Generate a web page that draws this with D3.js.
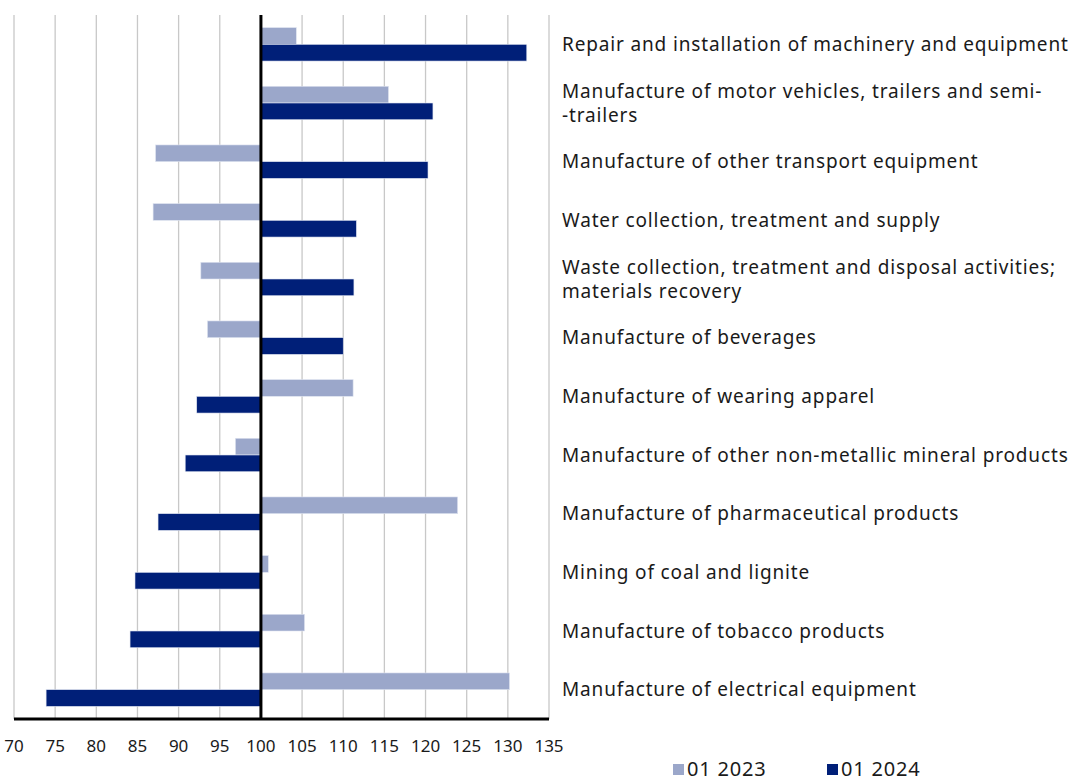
<!DOCTYPE html>
<html>
<head>
<meta charset="utf-8">
<script src="https://cdn.jsdelivr.net/npm/d3@7"></script>
<style>
  body { margin: 0; background: #fff; }
  text { font-family: "Noto Sans", sans-serif; fill: #1a1a1a; }
</style>
</head>
<body>
<div id="chart"></div>
<script>
// --- data ---
const categories = [
  ["Repair and installation of machinery and equipment"],
  ["Manufacture of motor vehicles, trailers and semi-", "-trailers"],
  ["Manufacture of other transport equipment"],
  ["Water collection, treatment and supply"],
  ["Waste collection, treatment and disposal activities;", "materials recovery"],
  ["Manufacture of beverages"],
  ["Manufacture of wearing apparel"],
  ["Manufacture of other non-metallic mineral products"],
  ["Manufacture of pharmaceutical products"],
  ["Mining of coal and lignite"],
  ["Manufacture of tobacco products"],
  ["Manufacture of electrical equipment"]
];
const values2023 = [104.3, 115.5, 87.2, 86.9, 92.7, 93.5, 111.2, 96.9, 123.9, 100.9, 105.3, 130.2];
const values2024 = [132.3, 120.9, 120.3, 111.6, 111.3, 110.0, 92.2, 90.8, 87.5, 84.7, 84.1, 73.9];
const seriesNames = ["01 2023", "01 2024"];
const xTicks = d3.range(70, 136, 5);

const width = 1073, height = 781;
const plotL = 14, plotR = 549, plotT = 15, plotB = 719;
const colors = ["#9ba7ca", "#001f78"];

const svg = d3.select("#chart").append("svg")
  .attr("width", width).attr("height", height);

const x = d3.scaleLinear().domain([70, 135]).range([plotL, plotR]);
const y = d3.scaleBand().domain(d3.range(categories.length)).range([plotT, plotB]);
const barH = y.bandwidth() * 0.285;

// gridlines
svg.append("g").selectAll("line").data(xTicks).join("line")
  .attr("x1", d => x(d)).attr("x2", d => x(d))
  .attr("y1", plotT).attr("y2", plotB)
  .attr("stroke", "#c8c8c8").attr("stroke-width", 1.3);

// bars
const rows = categories.map((c, i) => ({ i, v: [values2023[i], values2024[i]] }));
const g = svg.append("g");
rows.forEach(r => {
  const cy = y(r.i) + y.bandwidth() / 2;
  r.v.forEach((v, s) => {
    g.append("rect")
      .attr("x", x(Math.min(v, 100)))
      .attr("width", Math.abs(x(v) - x(100)))
      .attr("y", cy - barH + s * barH)
      .attr("height", barH)
      .attr("fill", colors[s])
      .attr("stroke", "#dfe4f0").attr("stroke-width", 0.6);
  });
});

// axis at 100 and bottom axis
svg.append("line").attr("x1", x(100)).attr("x2", x(100))
  .attr("y1", plotT).attr("y2", plotB + 1)
  .attr("stroke", "#000").attr("stroke-width", 3);
svg.append("line").attr("x1", plotL).attr("x2", plotR)
  .attr("y1", plotB).attr("y2", plotB)
  .attr("stroke", "#000").attr("stroke-width", 3);

// tick labels
svg.append("g").selectAll("text").data(xTicks).join("text")
  .attr("x", d => x(d)).attr("y", 752)
  .attr("text-anchor", "middle")
  .attr("font-size", 17)
  .text(d => d);

// category labels
const lab = svg.append("g");
categories.forEach((lines, i) => {
  const cy = y(i) + y.bandwidth() / 2;
  const lh = 24;
  lines.forEach((t, k) => {
    lab.append("text")
      .attr("x", 562)
      .attr("y", cy + (k - (lines.length - 1) / 2) * lh)
      .attr("dy", "0.35em")
      .attr("font-size", 19)
      .attr("letter-spacing", 0.85)
      .text(t);
  });
});

// legend
const legX = [673, 827];
seriesNames.forEach((n, s) => {
  svg.append("rect").attr("x", legX[s]).attr("y", 764)
    .attr("width", 11).attr("height", 11).attr("fill", colors[s]);
  svg.append("text").attr("x", legX[s] + 14).attr("y", 776)
    .attr("font-size", 20).attr("letter-spacing", 0.8).text(n);
});
</script>
</body>
</html>
